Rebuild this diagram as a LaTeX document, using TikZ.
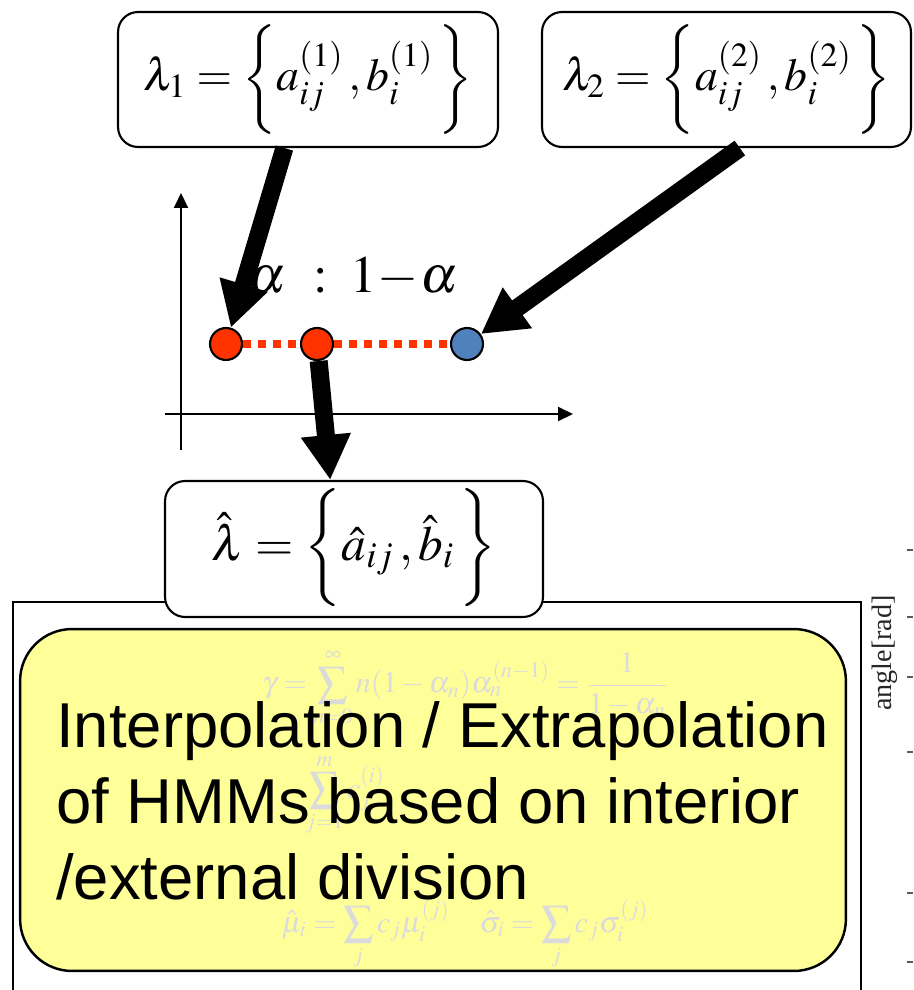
\documentclass[tikz,border=0pt]{standalone}
\usepackage{mathptmx}
\usepackage[no-math]{fontspec}
\setmainfont{Liberation Serif}
\newfontfamily\notefont{Liberation Sans}
\usepackage{tikz}
\usetikzlibrary{arrows.meta, positioning}
\definecolor{ptorange}{RGB}{255, 51, 0}
\definecolor{ptblue}{RGB}{79, 129, 189}
\definecolor{notefill}{RGB}{255, 255, 153}
\newcommand{\tallbrace}[1]{\vrule height #1 depth #1 width 0pt}

\begin{document}
\begin{tikzpicture}[x=0.02cm, y=-0.02cm,
  parbox/.style={draw, line width=1.2pt, rounded corners=0.4cm, fill=white,
    inner sep=0pt, minimum height=2.7cm, font=\fontsize{26}{31}\selectfont},
  ptdot/.style={circle, draw, line width=1.2pt, inner sep=0pt, minimum size=0.64cm},
  bigarrow/.style={-{Triangle[length=0.9cm, width=0.94cm]}, line width=0.36cm},
  axisline/.style={-{Triangle[length=0.3cm, width=0.28cm]}, line width=1.1pt},
  ghost/.style={text=black!14, font=\fontsize{17}{20}\selectfont}]
  \clip (0,0) rectangle (913,990);
  % frame of the slide underneath
  \draw[line width=1.1pt] (13,1000) -- (13,602) -- (861,602) -- (861,1000);
  \node[rotate=90, text=black!85, font=\fontsize{16}{19}\selectfont] (ylab) at (885,653) {angle[rad]};
  \foreach \ty in {550,617,677,752,893,962}
    \draw[black!65, line width=0.8pt] (907,\ty) -- (913,\ty);

  % the two models
  \node[parbox, minimum width=7.6cm] (lam1) at (308,79.5)
    {$\lambda_1 = \left\{\tallbrace{0.8em} a_{ij}^{(1)}\,, b_i^{(1)}\,\right\}$};
  \node[parbox, minimum width=7.38cm] (lam2) at (726.5,79.5)
    {$\lambda_2 = \left\{\tallbrace{0.8em} a_{ij}^{(2)}\,, b_i^{(2)}\,\right\}$};

  % axes
  \coordinate (yfoot) at (181,450);
  \coordinate (ytip) at (181,193);
  \coordinate (xfoot) at (165,414);
  \coordinate (xtip) at (573,414);
  \draw[axisline] (yfoot) -- (ytip);
  \draw[axisline] (xfoot) -- (xtip);

  % points on the line
  \node[ptdot, fill=ptorange] (p1) at (226,344) {};
  \node[ptdot, fill=ptorange] (pm) at (317,344) {};
  \node[ptdot, fill=ptblue] (p2) at (467,344) {};
  \draw[ptorange, line width=0.16cm, dash pattern=on 0.16cm off 0.14cm]
    (p1) -- (pm) (pm) -- (p2);
  \node[font=\fontsize{30}{34}\selectfont] (ratio) at (353,277)
    {$\alpha\hspace{0.3em}:\hspace{0.2em}1\mkern-2mu-\mkern-2mu\alpha$};

  % result
  \node[parbox, minimum width=7.56cm, minimum height=2.72cm, font=\fontsize{28}{33}\selectfont]
    (hat) at (354,549)
    {$\hat{\lambda} = \left\{\tallbrace{1em}\hat{a}_{ij}\,, \hat{b}_i\,\right\}$};

  \draw[bigarrow] (lam1.251) -- (p1);
  \draw[bigarrow] (lam2.281) -- (p2);
  \draw[bigarrow] (pm) -- (hat.109);

  % note
  \node[draw, line width=1.4pt, fill=notefill, rounded corners=1.04cm, inner sep=0pt,
        minimum width=16.52cm, minimum height=6.84cm] (note) at (433,800) {};
  \node[ghost] (g1) at (465,688)
    {$\displaystyle \gamma = \sum_{n=0}^{\infty} n(1-\alpha_n)\alpha_n^{(n-1)} = \frac{1}{1-\alpha_n}$};
  \node[ghost] (g2) at (345,795) {$\displaystyle \sum_{j=1}^{m} c_j^{(i)}$};
  \node[ghost] (g3) at (465,935)
    {$\displaystyle \hat{\mu}_i = \sum_{j} c_j\mu_i^{(j)} \quad \hat{\sigma}_i = \sum_{j} c_j\sigma_i^{(j)}$};
  \node[anchor=north west, inner sep=0pt, align=left,
        font=\notefont\fontsize{36.1}{43.2}\selectfont] (notetxt) at (56,701)
    {Interpolation / Extrapolation\\of HMMs based on interior\\/external division};
\end{tikzpicture}
\end{document}
